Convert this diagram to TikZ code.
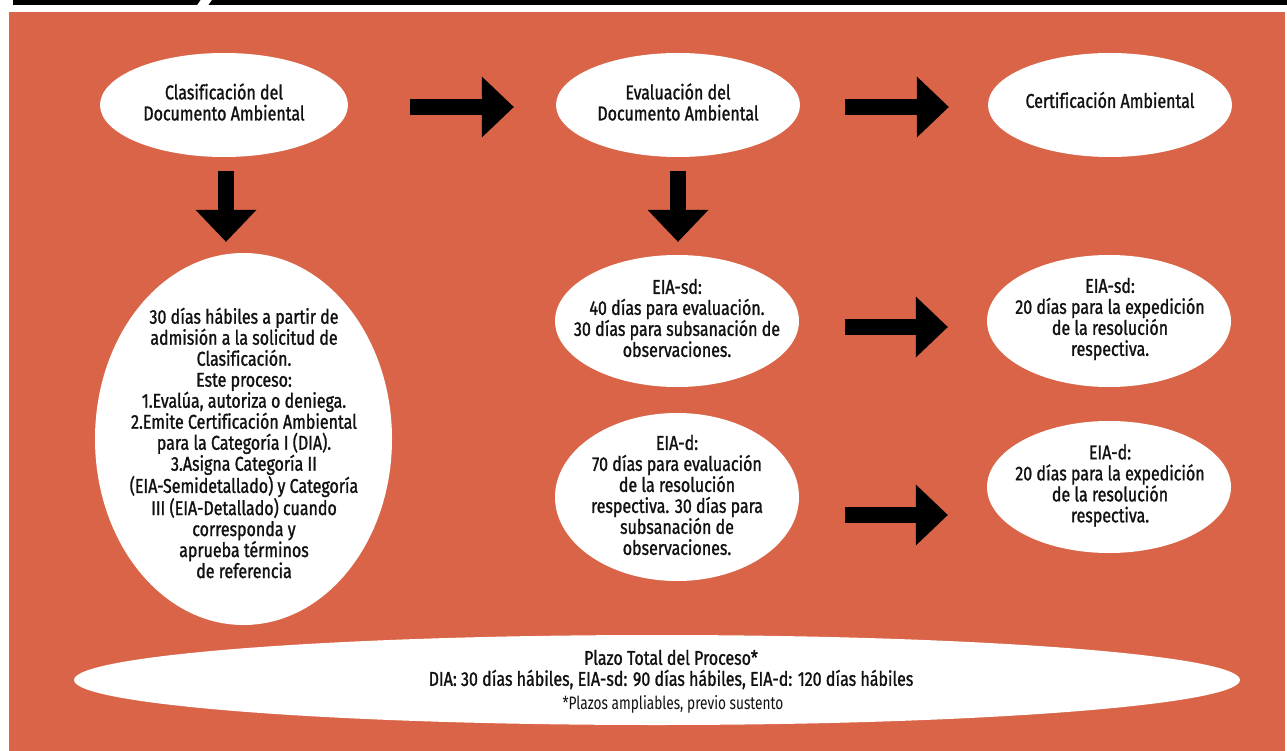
\documentclass[tikz,border=0pt]{standalone}
\usepackage{fontspec}
\setmainfont[FakeStretch=0.80, FakeBold=1.2, Ligatures=NoCommon]{Fira Sans}
\newfontfamily\notefont[FakeStretch=0.76, Ligatures=NoCommon]{Fira Sans}
\usetikzlibrary{shapes.geometric,arrows.meta}
\definecolor{bgorange}{RGB}{218,100,72}
\definecolor{ink}{RGB}{17,17,17}
\begin{document}
\begin{tikzpicture}[x=1pt,y=-1pt,
  blob/.style={ellipse, fill=white, draw=none, inner sep=0pt},
  txt/.style={align=center, text=ink, font=\fontsize{20}{21}\selectfont, inner sep=0pt},
  notetxt/.style={align=center, text=ink, font=\notefont\fontsize{18}{18}\selectfont, inner sep=0pt},
  bigarrow/.style={draw=black, line width=15.5pt, -{Triangle[length=32pt,width=61pt,line width=0pt]}}]
\useasboundingbox (0,0) rectangle (1287,751);
\fill[white] (0,0) rectangle (1287,751);
\fill[bgorange] (9,12) rectangle (1285,751);
\fill[black] (13,0) -- (200.5,0) -- (197,5) -- (13,5) -- cycle;
\fill[black] (212,0) -- (1287,0) -- (1287,5) -- (208.5,5) -- cycle;

% ellipses
\node[blob, minimum width=248pt, minimum height=104pt] (clas) at (224,105) {};
\node[blob, minimum width=244pt, minimum height=104pt] (eval) at (678,105) {};
\node[blob, minimum width=244pt, minimum height=104pt] (cert) at (1110,105) {};
\node[blob, minimum width=297pt, minimum height=372pt] (dia) at (243.5,439) {};
\node[blob, minimum width=244pt, minimum height=132pt] (sd) at (677,321) {};
\node[blob, minimum width=244pt, minimum height=168pt] (d) at (677,497) {};
\node[blob, minimum width=244pt, minimum height=132pt] (sdr) at (1109,321) {};
\node[blob, minimum width=244pt, minimum height=132pt] (dr) at (1109,487) {};
\node[blob, minimum width=1166pt, minimum height=90pt] (total) at (657,680) {};

% texts
\node[txt] (clasT) at (224,102) {Clasificación del\\Documento Ambiental};
\node[txt] (evalT) at (678,102) {Evaluación del\\Documento Ambiental};
\node[txt] (certT) at (1110,100) {Certificación Ambiental};
\node[txt] (diaT) at (244,443) {30 días hábiles a partir de\\admisión a la solicitud de\\Clasificación.\\Este proceso:\\1.Evalúa, autoriza o deniega.\\2.Emite Certificación Ambiental\\para la Categoría I (DIA).\\3.Asigna Categoría II\\(EIA-Semidetallado) y Categoría\\III (EIA-Detallado) cuando\\corresponda y\\aprueba términos\\de referencia};
\node[txt] (sdT) at (677,318) {EIA-sd:\\40 días para evaluación.\\30 días para subsanación de\\observaciones.};
\node[txt] (dT) at (677,495) {EIA-d:\\70 días para evaluación\\de la resolución\\respectiva. 30 días para\\subsanación de\\observaciones.};
\node[txt] (sdrT) at (1110,319) {EIA-sd:\\20 días para la expedición\\de la resolución\\respectiva.};
\node[txt] (drT) at (1110,485.5) {EIA-d:\\20 días para la expedición\\de la resolución\\respectiva.};
\node[txt] (totalT) at (671,669.5) {Plazo Total del Proceso*\\DIA: 30 días hábiles, EIA-sd: 90 días hábiles, EIA-d: 120 días hábiles};
\node[notetxt] (noteT) at (673,704) {*Plazos ampliables, previo sustento};

% arrows
\draw[bigarrow] ([shift={(62,2)}]clas.east) -- ([shift={(-42,2)}]eval.west);
\draw[bigarrow] ([shift={(45,2)}]eval.east) -- ([shift={(-39,2)}]cert.west);
\draw[bigarrow] ([shift={(46,6)}]sd.east) -- ([shift={(-39,6)}]sdr.west);
\draw[bigarrow] ([shift={(46,18)}]d.east) -- ([shift={(-39,28)}]dr.west);
\draw[bigarrow] ([shift={(2,14)}]clas.south) -- ([shift={(-17.5,-11)}]dia.north);
\draw[bigarrow] ([shift={(0,14)}]eval.south) -- ([shift={(1,-13)}]sd.north);
\end{tikzpicture}
\end{document}
